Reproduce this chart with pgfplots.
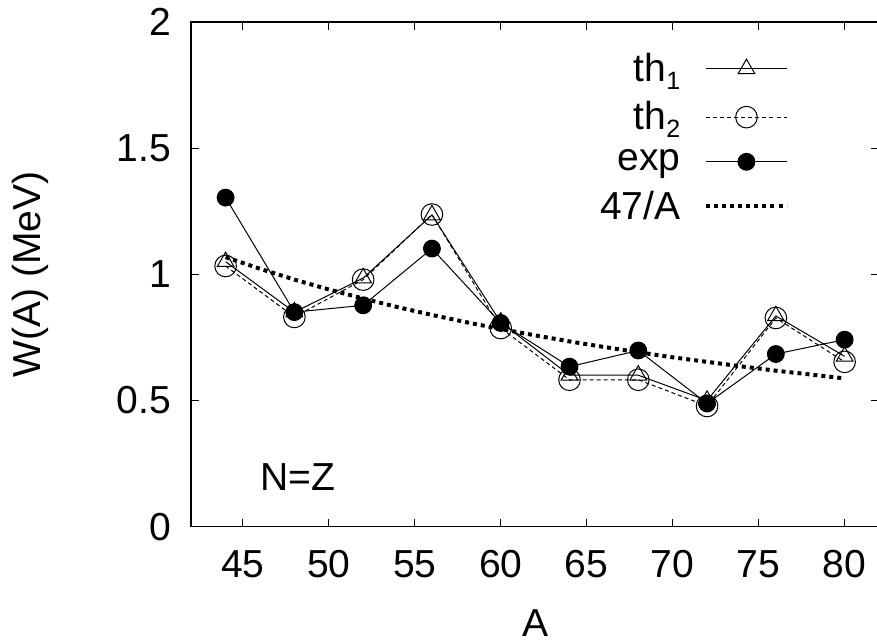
\documentclass[border=0pt]{standalone}
\usepackage{fontspec}
\setmainfont{Liberation Sans}
\usepackage{pgfplots}
\pgfplotsset{compat=1.18}
\newcommand{\sub}[1]{\raisebox{-4pt}{\fontsize{12.5}{12.5}\selectfont #1}}
\begin{document}
\begin{tikzpicture}
\begin{axis}[
  scale only axis, width=343.5pt, height=252pt,
  xmin=42, xmax=82, ymin=0, ymax=2,
  xtick={45,50,55,60,65,70,75,80},
  xticklabels={45,50,55,60,65,70,75,80},
  ytick={0,0.5,1,1.5,2},
  yticklabels={0,0.5,1,1.5,2},
  tick align=inside, major tick length=4pt,
  axis line style={line width=0.8pt},
  tick style={line width=0.6pt, black},
  /pgf/number format/assume math mode=true,
  ticklabel style={font=\fontsize{19.5}{23}\selectfont},
  xticklabel style={yshift=-8.5pt},
  yticklabel style={xshift=-6.5pt},
  xlabel={A}, ylabel={W(A) (MeV)},
  label style={font=\fontsize{19.5}{23}\selectfont},
  xlabel style={at={(rel axis cs:0.5,0)}, anchor=north, yshift=-38pt},
  ylabel style={at={(rel axis cs:-0.2344,0.5)}, anchor=center},
  legend style={draw=none, fill=none, at={(rel axis cs:0.869,0.947)}, anchor=north east,
    font=\fontsize{19.5}{23}\selectfont, row sep=4.5pt, inner sep=0pt,
    /tikz/every odd column/.append style={column sep=10pt}},
  legend cell align=right, legend plot pos=right,
  legend image code/.code={\draw[mark repeat=2,mark phase=2] plot coordinates {(0pt,0pt) (20pt,0pt) (40pt,0pt)};},
]
\addplot[black, line width=0.5pt, mark=triangle, mark size=4.8pt, mark options={solid}] coordinates {
(44,1.05) (48,0.85) (52,0.985) (56,1.235) (60,0.81) (64,0.60) (68,0.60) (72,0.50) (76,0.835) (80,0.675)};
\addlegendentry{th\sub{1}}
\addplot[black, line width=0.5pt, dash pattern=on 2pt off 1.5pt, mark=o, mark size=5.4pt, mark options={solid}] coordinates {
(44,1.033) (48,0.831) (52,0.979) (56,1.237) (60,0.787) (64,0.582) (68,0.582) (72,0.478) (76,0.827) (80,0.653)};
\addlegendentry{th\sub{2}}
\addplot[black, line width=0.5pt, mark=*, mark size=4.2pt, mark options={solid}] coordinates {
(44,1.304) (48,0.850) (52,0.877) (56,1.102) (60,0.807) (64,0.634) (68,0.698) (72,0.488) (76,0.684) (80,0.741)};
\addlegendentry{exp}
\addplot[black, line width=2pt, dash pattern=on 2pt off 2pt, no marks] coordinates {
(44,1.068) (46,1.022) (48,0.979) (50,0.940) (52,0.904) (54,0.870) (56,0.839) (58,0.810) (60,0.783) (62,0.758) (64,0.734) (66,0.712) (68,0.691) (70,0.671) (72,0.653) (74,0.635) (76,0.618) (78,0.603) (80,0.5875)};
\addlegendentry{47/A}
\node[font=\fontsize{19.5}{23}\selectfont] at (axis cs:48.2,0.198) {N=Z};
\coordinate (sw) at (rel axis cs:0,0);
\coordinate (ne) at (rel axis cs:1,1);
\end{axis}
\pgfresetboundingbox
\path ([shift={(-95.5pt,-57.5pt)}]sw) rectangle ([shift={(-1pt,11pt)}]ne);
\end{tikzpicture}
\end{document}
